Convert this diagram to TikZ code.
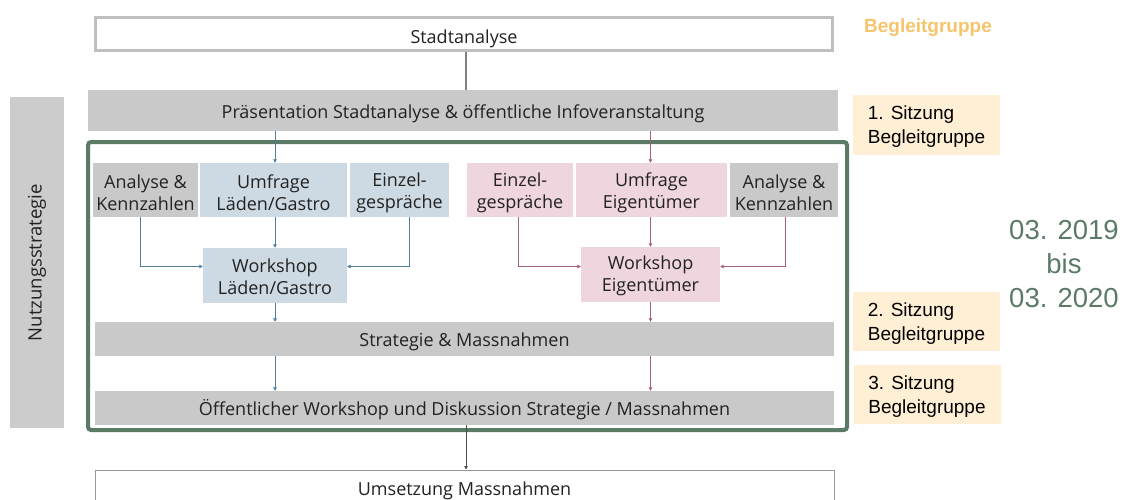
\documentclass[tikz,border=0pt]{standalone}
\usepackage{fontspec}
\setmainfont{Open Sans}
\newfontfamily\arialfont{Liberation Sans}
\usetikzlibrary{arrows.meta}

\definecolor{boxgray}{HTML}{C9C9C9}
\definecolor{boxblue}{HTML}{CDDAE3}
\definecolor{boxpink}{HTML}{EFD5DD}
\definecolor{lineblue}{HTML}{4F7E9E}
\definecolor{linepink}{HTML}{A5607A}
\definecolor{framegreen}{HTML}{5B7B67}
\definecolor{sitzfill}{HTML}{FFEFD4}
\definecolor{headorange}{HTML}{F6C46B}
\definecolor{txt}{HTML}{222222}

\begin{document}
\begin{tikzpicture}[x=1pt,y=-1pt,
  box/.style={rectangle, inner sep=0pt},
  lbl/.style={inner sep=0pt, align=center, text=txt, yshift=-3pt,
    font=\fontsize{18}{22}\selectfont},
  graybox/.style={box, fill=boxgray},
  bluebox/.style={box, fill=boxblue},
  pinkbox/.style={box, fill=boxpink},
  sitz/.style={rectangle, inner sep=0pt, fill=sitzfill, minimum width=147pt},
  sitzlbl/.style={inner sep=0pt, align=left, text=black, yshift=-2pt,
    font=\arialfont\fontsize{19}{24}\selectfont},
  tip/.style={-{Triangle[length=3.5pt,width=3.5pt]}},
  bluearr/.style={tip, draw=lineblue, line width=1pt},
  pinkarr/.style={tip, draw=linepink, line width=1pt},
]
\useasboundingbox (0,0) rectangle (1123,500);

% main column
\node[box, draw=black!25, line width=3pt, fill=white, minimum width=737pt, minimum height=33pt,
  label={[lbl, yshift=-2pt]center:Stadtanalyse}] (stadt) at (464,34) {};
\node[graybox, minimum width=750pt, minimum height=41pt,
  label={[lbl]center:Präsentation Stadtanalyse \& öffentliche Infoveranstaltung}] (praes) at (463,110.5) {};
\node[box, fill=black!20, minimum width=54pt, minimum height=331pt] (nutz) at (37,262.5) {};
\node[lbl, yshift=3pt, rotate=90, font=\fontsize{18.5}{22}\selectfont] (nutzlbl) at (nutz.center) {Nutzungsstrategie};

% frame around the strategy phase
\draw[framegreen, line width=4pt, rounded corners=3pt] (88,142) rectangle (847,430);

% first row
\node[graybox, minimum width=105pt, minimum height=54pt, label={[lbl]center:Analyse \&\\Kennzahlen}] (a1) at (145.5,190) {};
\node[bluebox, minimum width=147pt, minimum height=54pt, label={[lbl]center:Umfrage\\Läden/Gastro}] (u1) at (273.5,190) {};
\node[bluebox, minimum width=99pt, minimum height=54pt, label={[lbl]center:Einzel-\\gespräche}] (e1) at (399.5,190) {};
\node[pinkbox, minimum width=106pt, minimum height=54pt, label={[lbl]center:Einzel-\\gespräche}] (e2) at (520,190) {};
\node[pinkbox, minimum width=151pt, minimum height=54pt, label={[lbl]center:Umfrage\\Eigentümer}] (u2) at (651.5,190) {};
\node[graybox, minimum width=108pt, minimum height=54pt, label={[lbl]center:Analyse \&\\Kennzahlen}] (a2) at (784,190) {};

% workshops
\node[bluebox, minimum width=144pt, minimum height=55pt, label={[lbl, yshift=2pt]center:Workshop\\Läden/Gastro}] (w1) at (275,275.5) {};
\node[pinkbox, minimum width=139pt, minimum height=55pt, label={[lbl, yshift=2pt]center:Workshop\\Eigentümer}] (w2) at (650.5,274.5) {};

\node[graybox, minimum width=739pt, minimum height=34pt,
  label={[lbl]center:Strategie \& Massnahmen}] (strat) at (464.5,339) {};
\node[graybox, minimum width=739pt, minimum height=34pt,
  label={[lbl, yshift=1pt]center:Öffentlicher Workshop und Diskussion Strategie / Massnahmen}] (oeff) at (464.5,408) {};
\node[box, draw=black!40, line width=1pt, fill=white, minimum width=739pt, minimum height=38pt,
  label={[lbl, yshift=1pt]center:Umsetzung Massnahmen}] (umset) at (464.5,489) {};

% connectors
\draw[black!50, line width=1.2pt] (stadt.south -| 466,0) -- (praes.north -| 466,0);
\draw[bluearr] (praes.south -| w1.north) -- (u1.north -| w1.north);
\draw[pinkarr] (praes.south -| w2.north) -- (u2.north -| w2.north);
\draw[bluearr] (u1.south -| w1.north) -- (w1.north);
\draw[pinkarr] (u2.south -| w2.north) -- (w2.north);
\draw[bluearr] ([xshift=-5.5pt]a1.south) |- ([yshift=9pt]w1.west);
\draw[bluearr] ([xshift=10pt]e1.south) |- ([yshift=9pt]w1.east);
\draw[pinkarr] ([xshift=-2pt]e2.south) |- ([yshift=8pt]w2.west);
\draw[pinkarr] ([xshift=1pt]a2.south) |- ([yshift=8pt]w2.east);
\draw[bluearr] (w1.south) -- (strat.north -| w1.south);
\draw[pinkarr] (w2.south) -- (strat.north -| w2.south);
\draw[bluearr] (strat.south -| w1.south) -- (oeff.north -| w1.south);
\draw[pinkarr] (strat.south -| w2.south) -- (oeff.north -| w2.south);
\draw[tip, draw=black!70, line width=1pt] (oeff.south -| 466,0) -- (umset.north -| 466,0);

% accompanying group
\node[font=\arialfont\bfseries\fontsize{19}{23}\selectfont, text=headorange] (head) at (928,28) {Begleitgruppe};
\node[sitz, minimum height=60pt, label={[sitzlbl]center:1. Sitzung\\Begleitgruppe}] (s1) at (926.5,125) {};
\node[sitz, minimum height=59pt, label={[sitzlbl]center:2. Sitzung\\Begleitgruppe}] (s2) at (926.5,321.5) {};
\node[sitz, minimum height=59pt, label={[sitzlbl]center:3. Sitzung\\Begleitgruppe}] (s3) at (927,394.5) {};
\node[align=center, text=framegreen, inner sep=0pt,
  font=\arialfont\fontsize{27.5}{34}\selectfont] (dates) at (1064,264) {03. 2019\\bis\\03. 2020};
\end{tikzpicture}
\end{document}
